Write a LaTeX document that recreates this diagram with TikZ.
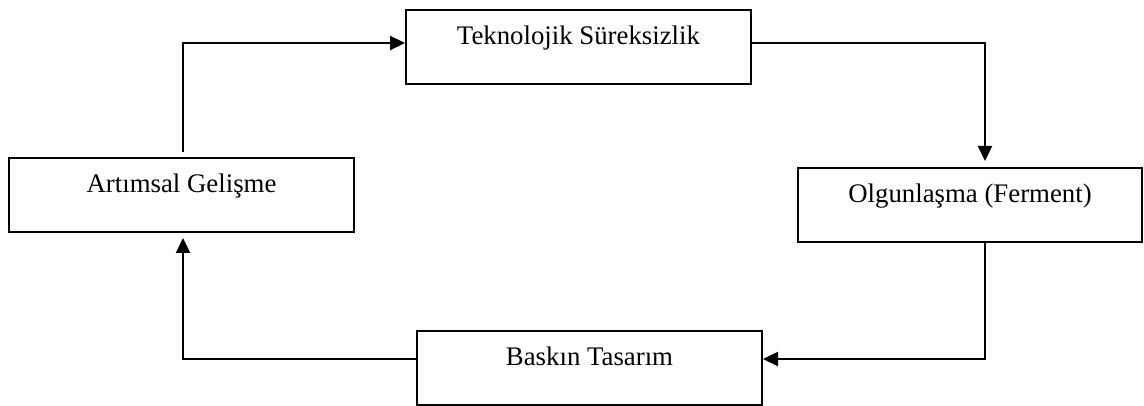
\documentclass[tikz,border=0pt]{standalone}
\usepackage{fontspec}
\setmainfont{Liberation Serif}
\usetikzlibrary{arrows.meta}
\begin{document}
\begin{tikzpicture}[x=1pt,y=-1pt,
  stagebox/.style={draw=black,line width=2pt,inner sep=0pt,
    minimum width=345pt,minimum height=74pt,
    font=\fontsize{26.8}{30}\selectfont,text height=18pt,text depth=23pt},
  flow/.style={line width=2.3pt,-{Triangle[length=15pt,width=14pt]}}]
  \useasboundingbox (0,0) rectangle (1144,406);
  % the four phases of the technology cycle
  \node[stagebox] (tk) at (578.5,47.5) {Teknolojik Süreksizlik};
  \node[stagebox] (ag) at (181.5,195) {Artımsal Gelişme};
  \node[stagebox,minimum width=344pt] (og) at (970,205) {Olgunlaşma (Ferment)};
  \node[stagebox] (bt) at (589.5,367.5) {Baskın Tasarım};
  % cycle connectors
  \draw[flow,shorten <=5pt] ([xshift=1.5pt]ag.north) |- ([yshift=4.5pt]tk.west);
  \draw[flow,shorten >=6pt] ([yshift=4.5pt]tk.east) -| ([xshift=15pt]og.north);
  \draw[flow] ([xshift=15pt]og.south) |- ([yshift=8.5pt]bt.east);
  \draw[flow,shorten >=5pt] ([yshift=8.5pt]bt.west) -| ([xshift=1.5pt]ag.south);
\end{tikzpicture}
\end{document}
